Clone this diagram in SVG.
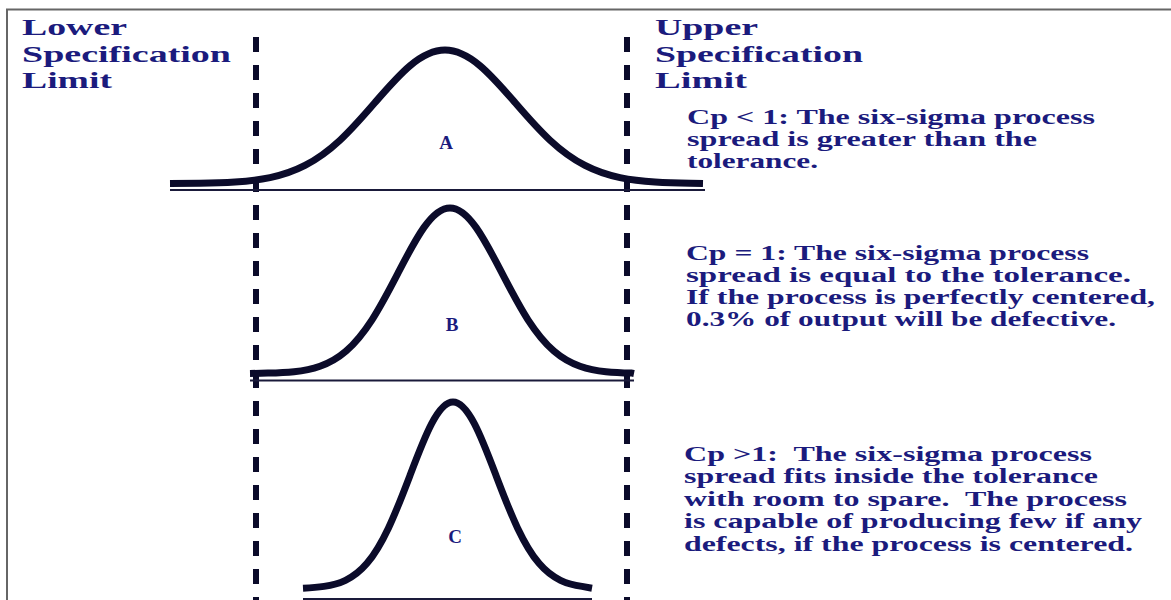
<svg xmlns="http://www.w3.org/2000/svg" width="1171" height="600" viewBox="0 0 1171 600">
<style>
  .t { font-family: "Liberation Serif", "Times New Roman", serif; font-weight: bold; fill: #1b1b7d; }
  .big { font-size: 23.5px; }
  .mid { font-size: 20px; }
  .lbl { font-size: 19px; }
  .curve { fill: none; stroke: #0b0b2a; stroke-width: 7; stroke-linejoin: round; stroke-linecap: butt; }
  .base { stroke: #1a1a3a; stroke-width: 2; }
  .limit { stroke: #0b0b2a; stroke-width: 6; stroke-dasharray: 15 13; }
  .frame { stroke: #666; stroke-width: 2; fill: none; }
</style>
<rect width="1171" height="600" fill="#fff"/>
<path class="frame" d="M7 600 V9.5 H1171"/>

<g id="limits">
  <line id="lsl-line" class="limit" x1="256" y1="37" x2="256" y2="600"/>
  <line id="usl-line" class="limit" x1="627" y1="37" x2="627" y2="600"/>
</g>

<g id="label-lsl">
  <text class="t big" x="22" y="35" textLength="105" lengthAdjust="spacingAndGlyphs">Lower</text>
  <text class="t big" x="22" y="62" textLength="209" lengthAdjust="spacingAndGlyphs">Specification</text>
  <text class="t big" x="22" y="88" textLength="90" lengthAdjust="spacingAndGlyphs">Limit</text>
</g>
<g id="label-usl">
  <text class="t big" x="655" y="35" textLength="103" lengthAdjust="spacingAndGlyphs">Upper</text>
  <text class="t big" x="655" y="62" textLength="208" lengthAdjust="spacingAndGlyphs">Specification</text>
  <text class="t big" x="655" y="88" textLength="92" lengthAdjust="spacingAndGlyphs">Limit</text>
</g>

<g id="curve-a">
  <line class="base" x1="170" y1="190" x2="705" y2="190"/>
  <path class="curve" d="M170 183.5 L200 183.2 C211.67 183.03 223.33 182.74 235 182 C246.67 181.26 258.33 180.04 270 177.6 C281.67 175.16 293.33 171.42 305 165.4 C316.67 159.38 328.33 151.04 340 140.2 C351.67 129.36 363.33 115.99 375 102.5 C386.67 89.01 398.33 75.52 410 65.7 C421.67 55.88 433.33 50 445 50 C456.67 50 468.33 55.88 480 65.7 C491.67 75.52 503.33 89.01 515 102.5 C526.67 115.99 538.33 129.36 550 140.2 C561.67 151.04 573.33 159.38 585 165.4 C596.67 171.42 608.33 175.16 620 177.6 C631.67 180.04 643.33 181.26 655 182 C666.67 182.74 678.33 183.03 690 183.2 L703 183.5"/>
  <text class="t lbl" x="446" y="149" text-anchor="middle">A</text>
</g>
<g id="text-a">
  <text class="t mid" x="687" y="124" textLength="408" lengthAdjust="spacingAndGlyphs">Cp &lt; 1: The six-sigma process</text>
  <text class="t mid" x="687" y="146" textLength="350" lengthAdjust="spacingAndGlyphs">spread is greater than the</text>
  <text class="t mid" x="687" y="168" textLength="131" lengthAdjust="spacingAndGlyphs">tolerance.</text>
</g>

<g id="curve-b">
  <line class="base" x1="250" y1="380.5" x2="634" y2="380.5"/>
  <path class="curve" d="M250 373.5 L268 373.1 C276.67 372.89 285.33 372.62 294 371.7 C302.67 370.78 311.33 369.23 320 366.2 C328.67 363.17 337.33 358.57 346 351.1 C354.67 343.63 363.33 333.24 372 319.8 C380.67 306.36 389.33 289.83 398 273.1 C406.67 256.37 415.33 239.57 424 227.4 C432.67 215.23 441.33 208 450 208 C458.67 208 467.33 215.23 476 227.4 C484.67 239.57 493.33 256.37 502 273.1 C510.67 289.83 519.33 306.36 528 319.8 C536.67 333.24 545.33 343.63 554 351.1 C562.67 358.57 571.33 363.17 580 366.2 C588.67 369.23 597.33 370.78 606 371.7 C614.67 372.62 623.33 372.89 632 373.1 L634 373.5"/>
  <text class="t lbl" x="452" y="331" text-anchor="middle">B</text>
</g>
<g id="text-b">
  <text class="t mid" x="686" y="260" textLength="403" lengthAdjust="spacingAndGlyphs">Cp = 1: The six-sigma process</text>
  <text class="t mid" x="686" y="282" textLength="445" lengthAdjust="spacingAndGlyphs">spread is equal to the tolerance.</text>
  <text class="t mid" x="686" y="304" textLength="469" lengthAdjust="spacingAndGlyphs">If the process is perfectly centered,</text>
  <text class="t mid" x="686" y="326" textLength="430" lengthAdjust="spacingAndGlyphs">0.3% of output will be defective.</text>
</g>

<g id="curve-c">
  <line class="base" x1="303" y1="599" x2="592" y2="599"/>
  <path class="curve" d="M303 588.2 C309.67 587.86 316.83 587.44 324 586.4 C331.17 585.36 338.33 583.71 345.5 580.3 C352.67 576.89 359.83 571.71 367 563.3 C374.17 554.89 381.33 543.04 388.5 527.9 C395.67 512.76 402.83 494.25 410 475.4 C417.17 456.55 424.33 437.62 431.5 423.9 C438.67 410.18 445.83 402 453 402 C460.17 402 467.33 410.18 474.5 423.9 C481.67 437.62 488.83 456.55 496 475.4 C503.17 494.25 510.33 512.76 517.5 527.9 C524.67 543.04 531.83 554.89 539 563.3 C546.17 571.71 553.33 576.89 560.5 580.3 C567.67 583.71 574.83 585.36 582 586.4 L592 588.2"/>
  <text class="t lbl" x="455" y="543" text-anchor="middle">C</text>
</g>
<g id="text-c">
  <text class="t mid" x="684" y="461" textLength="408" lengthAdjust="spacingAndGlyphs" xml:space="preserve">Cp &gt;1:  The six-sigma process</text>
  <text class="t mid" x="684" y="483" textLength="414" lengthAdjust="spacingAndGlyphs">spread fits inside the tolerance</text>
  <text class="t mid" x="684" y="506" textLength="443" lengthAdjust="spacingAndGlyphs" xml:space="preserve">with room to spare.  The process</text>
  <text class="t mid" x="684" y="528" textLength="458" lengthAdjust="spacingAndGlyphs">is capable of producing few if any</text>
  <text class="t mid" x="684" y="551" textLength="449" lengthAdjust="spacingAndGlyphs">defects, if the process is centered.</text>
</g>
</svg>
